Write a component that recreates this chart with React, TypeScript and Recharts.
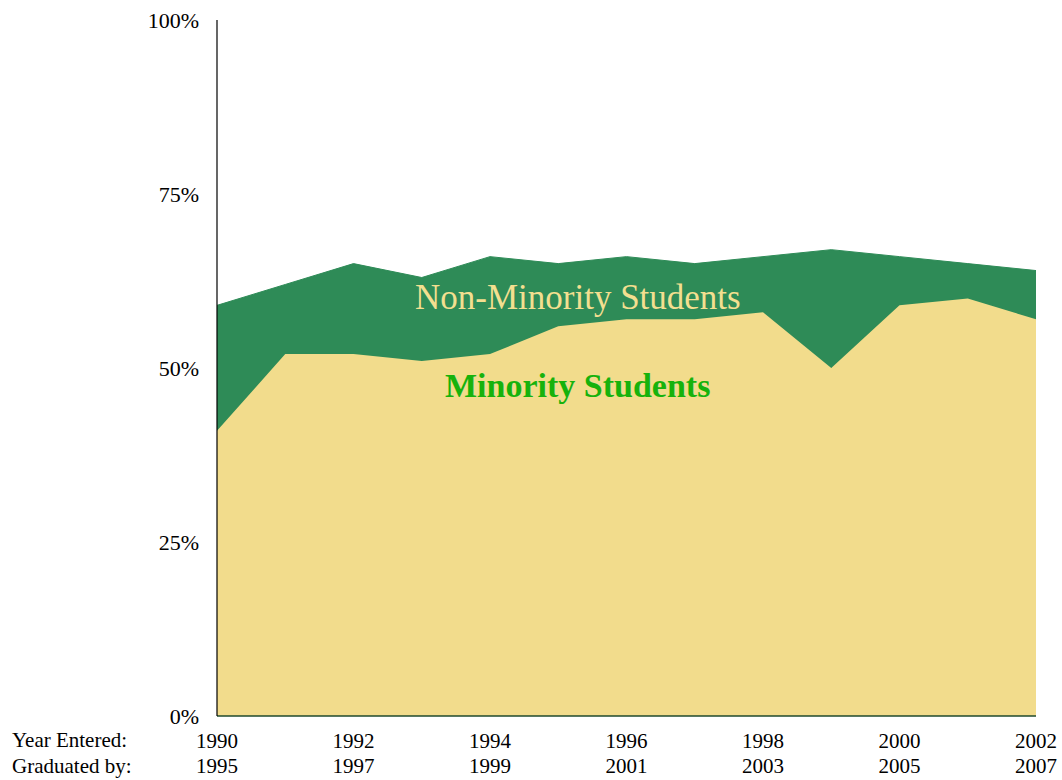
import React from 'react';
import { AreaChart, Area, XAxis, YAxis } from 'recharts';

const yearsEntered = [1990, 1991, 1992, 1993, 1994, 1995, 1996, 1997, 1998, 1999, 2000, 2001, 2002];
const yearsGraduated = [1995, 1996, 1997, 1998, 1999, 2000, 2001, 2002, 2003, 2004, 2005, 2006, 2007];
const nonMinority = [59, 62, 65, 63, 66, 65, 66, 65, 66, 67, 66, 65, 64];
const minority = [41, 52, 52, 51, 52, 56, 57, 57, 58, 50, 59, 60, 57];
const yTicks = [0, 25, 50, 75, 100];

const data = yearsEntered.map((year, i) => ({
  year,
  grad: yearsGraduated[i],
  nonMinority: nonMinority[i],
  minority: minority[i],
}));

const FONT = '"Liberation Serif", "Times New Roman", serif';

const YearTick = (props: any) => {
  const { x, y, payload, index } = props;
  const grad = yearsGraduated[yearsEntered.indexOf(payload.value)];
  return (
    <g fontFamily={FONT} fontSize={21} fill="#000">
      {index === 0 && (
        <>
          <text x={12} y={y + 23} textAnchor="start">Year Entered:</text>
          <text x={12} y={y + 49} textAnchor="start">Graduated by:</text>
        </>
      )}
      <text x={x} y={y + 24} textAnchor="middle">{payload.value}</text>
      <text x={x} y={y + 49} textAnchor="middle">{grad}</text>
    </g>
  );
};

const App: React.FC = () => {
  return (
    <div style={{ position: 'relative', width: 1062, height: 780 }}>
      <style>{`body { margin: 0; }`}</style>
      <AreaChart
        width={1062}
        height={780}
        data={data}
        margin={{ top: 20, right: 26, left: 0, bottom: 0 }}
      >
        <XAxis
          dataKey="year"
          height={64}
          interval={1}
          tickLine={false}
          axisLine={{ stroke: '#1f4a2c', strokeWidth: 1.5 }}
          tick={<YearTick />}
        />
        <YAxis
          width={217}
          domain={[0, 100]}
          ticks={yTicks}
          tickLine={false}
          axisLine={{ stroke: '#000', strokeWidth: 1.2 }}
          tickFormatter={(v: number) => `${v}%`}
          tick={{ fill: '#000', fontSize: 22, fontFamily: FONT }}
          tickMargin={12}
        />
        <Area
          type="linear"
          dataKey="nonMinority"
          stroke="#2e8b57"
          strokeWidth={1}
          fill="#2e8b57"
          fillOpacity={1}
          isAnimationActive={false}
        />
        <Area
          type="linear"
          dataKey="minority"
          stroke="none"
          fill="#f2dc8c"
          fillOpacity={1}
          isAnimationActive={false}
        />
      </AreaChart>
      <svg
        width={1062}
        height={780}
        style={{ position: 'absolute', left: 0, top: 0, pointerEvents: 'none' }}
      >
        <text x={415} y={309} fontFamily={FONT} fontSize={35} fill="#f3df90">
          Non-Minority Students
        </text>
        <text x={445} y={397} fontFamily={FONT} fontSize={34} fontWeight="bold" fill="#17b20c">
          Minority Students
        </text>
      </svg>
    </div>
  );
};

export default App;
